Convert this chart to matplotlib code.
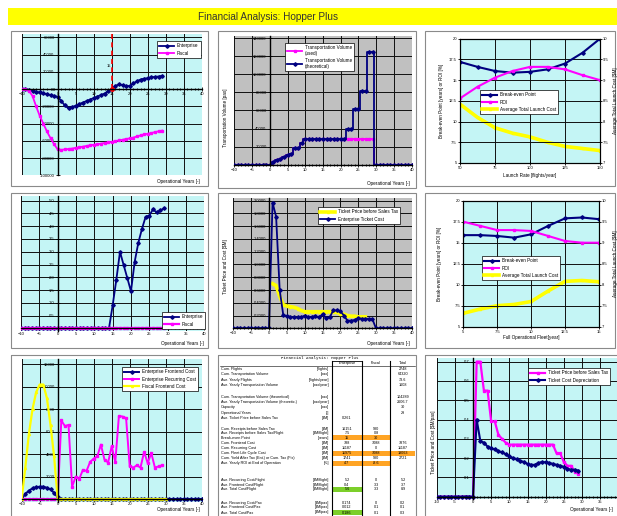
import matplotlib
matplotlib.use('Agg')
import matplotlib.pyplot as plt
from matplotlib.patches import Rectangle
from matplotlib.ticker import MultipleLocator, FuncFormatter, FixedLocator

plt.rcParams['font.family'] = ['Liberation Sans', 'DejaVu Sans']

# ---------------- data ----------------
years_p1 = list(range(-10, 30))
cash_enterprise = [500, 0, -1000, -2000, -3000, -4000, -5000, -6000, -7000, -8000,
                   -9000, -14000, -19000, -22500, -21000, -19300, -17500, -15700, -14000, -12200,
                   -10500, -8700, -7000, -5200, -2500, 0, 3500, 5500, 4500, 3500,
                   3500, 6500, 9000, 11000, 12000, 12500, 13500, 14000, 14500, 15300]
cash_fiscal = [500, -500, -2000, -8000, -20000, -31000, -40000, -49000, -57000, -64000,
               -70000, -70500, -70000, -69500, -69000, -68200, -67500, -66800, -66000, -65300,
               -64600, -64000, -63300, -62600, -61900, -61200, -60400, -59600, -58800, -58000,
               -57200, -56300, -55000, -53800, -52600, -51800, -51000, -50000, -49000, -48200]
break_even_year = 15

years_p2 = list(range(-10, 41))
vol_theoretical = [0] * 11 + [3000, 5000, 6000, 8000, 11000, 12000, 18000, 19000, 24000] + \
                  [28000] * 12 + [40000, 40000, 61000, 61000, 81000, 81000, 125000, 125000] + [0] * 11
vol_used = [0] * 11 + [3000, 5000, 6000, 8000, 11000, 12000, 18000, 19000, 24000] + \
           [28000] * 12 + [28000] * 8 + [0] * 11

launch_rate = [50, 62.5, 75, 87.5, 100, 112.5, 125, 137.5, 150]
be_launch = [17.2, 16.6, 16.1, 15.9, 16.0, 16.3, 17.0, 18.3, 20.0]
roi_launch = [12.8, 14.2, 15.3, 16.1, 16.6, 16.6, 16.3, 15.6, 15.0]
cost_launch = [8.42, 8.1, 7.85, 7.72, 7.63, 7.5, 7.4, 7.35, 7.3]

years_p4 = list(range(-10, 30))
roi_enterprise = [0] * 25 + [0.9, 1.9, 3.0, 2.48, 1.97, 1.45, 2.6, 3.35, 3.9, 4.37,
                             4.42, 4.66, 4.54, 4.62, 4.7]
roi_fiscal = [0] * 40

years_p5 = list(range(-10, 41))
ticket_cost_ent = [0] * 11 + [1.97, 1.75, 0.6, 0.21, 0.19, 0.18, 0.17, 0.17, 0.17, 0.2,
                              0.17, 0.18, 0.19, 0.17, 0.22, 0.16, 0.17, 0.28, 0.28, 0.27,
                              0.2, 0.12, 0.12, 0.13, 0.16, 0.15, 0.15, 0.15, 0.14] + [0] * 11
years_price_p5 = list(range(1, 28))
ticket_price_p5 = [0.70, 0.67, 0.5, 0.37, 0.35, 0.34, 0.33, 0.31, 0.28, 0.26,
                   0.26, 0.26, 0.26, 0.26, 0.26, 0.26, 0.26, 0.26, 0.25, 0.23,
                   0.22, 0.2, 0.19, 0.19, 0.18, 0.18, 0.18]

fleet_year = [5, 6.25, 7.5, 8.75, 10, 11.25, 12.5, 13.75, 15]
be_fleet = [15.9, 15.9, 15.8, 15.6, 16.0, 17.0, 17.9, 18.0, 17.8]
roi_fleet = [17.5, 17.0, 16.5, 16.5, 16.4, 15.8, 15.2, 15.0, 15.0]
cost_fleet = [7.32, 7.42, 7.5, 7.53, 7.6, 7.85, 8.08, 8.1, 8.07]

years_front_ent = list(range(-10, 41))
frontend_enterprise = [0, 450, 750, 950, 1050, 1100, 1100, 1000, 850, 550, 150] + [0] * 40
years_recurring = list(range(-10, 30))
recurring_enterprise = [0] * 11 + [7000, 6500, 6600, 1100, 2000, 1800, 2600, 2500, 3300, 3600,
                                   3800, 4850, 3500, 3250, 4700, 3300, 7400, 7350, 7200, 2900,
                                   2800, 3000, 2800, 4200, 3200, 4100, 2800, 2900, 3000]
years_front_fis = list(range(-10, 31))
frontend_fiscal = [0, 2800, 5800, 8000, 9500, 10200, 10200, 9000, 6600, 3800, 0] + [0] * 30

years_p9 = list(range(-10, 30))
price_p9 = [0] * 11 + [0.70, 0.70, 0.55, 0.55, 0.39, 0.39, 0.32, 0.30, 0.28] + [0.27] * 13 + \
           [0.225, 0.225, 0.18, 0.16, 0.16, 0.13, 0.12]
cost_dep_p9 = [0] * 11 + [0.40, 0.29, 0.28, 0.26, 0.25, 0.245, 0.235, 0.23, 0.22, 0.21,
                          0.2, 0.195, 0.185, 0.18, 0.17, 0.165, 0.165, 0.175, 0.18, 0.178,
                          0.175, 0.17, 0.165, 0.16, 0.155, 0.145, 0.14, 0.14, 0.135]

table_title = "Financial Analysis: Hopper Plus"
table_headers = ["Enterprise", "Fiscal", "Total"]
table_labels = ["Cum. Flights", "Cum. Transportation Volume", "Ave. Yearly Flights",
                "Ave. Yearly Transportation Volume",
                "Cum. Transportation Volume (theoretical)",
                "Ave. Yearly Transportation Volume (theoretic.)", "Capacity",
                "Operational Years", "Ave. Ticket Price before Sales Tax",
                "Cum. Receipts before Sales Tax", "Ave. Receipts before Sales Tax/Flight",
                "Break-even Point", "Cum. Frontend Cost", "Cum. Recurring Cost",
                "Cum. Fleet Life Cycle Cost", "Cum. Yield After Tax (Ent.) or Cum. Tax (Fis)",
                "Ave. Yearly ROI at End of Operation",
                "Ave. Recurring Cost/Flight", "Ave. Frontend Cost/Flight", "Ave. Total Cost/Flight",
                "Ave. Recurring Cost/Pax", "Ave. Frontend Cost/Pax", "Ave. Total Cost/Pax"]
table_units = ["[flights]", "[pax]", "[flights/year]", "[pax/year]",
               "[pax]", "[pax/year]", "[pax]", "[-]", "[$M]",
               "[$M]", "[$M/flight]", "[years]", "[$M]", "[$M]", "[$M]", "[$M]", "[%]",
               "[$M/flight]", "[$M/flight]", "[$M/flight]",
               "[$M/pax]", "[$M/pax]", "[$M/pax]"]
table_ent = ["", "", "", "", "", "", "", "", "0.261",
             "16151", "7.5", "15", "788", "11187", "11975", "1741", "4.7",
             "5.2", "0.4", "5.6", "0.174", "0.012", "0.186"]
table_fis = ["", "", "", "", "", "", "", "", "",
             "980", "0.8", "30", "7088", "0", "7088", "980", "-8.6",
             "0", "3.3", "3.3", "0", "0.1", "0.1"]
table_tot = ["2748", "64320", "73.6", "1608", "104289", "2606.7", "30", "29", "",
             "", "", "", "7876", "11187", "19063", "2721", "",
             "5.2", "3.7", "8.9", "0.2", "0.1", "0.3"]
orange_cells = [("Break-even Point", 0), ("Break-even Point", 1),
                ("Cum. Fleet Life Cycle Cost", 0), ("Cum. Fleet Life Cycle Cost", 1),
                ("Cum. Fleet Life Cycle Cost", 2),
                ("Ave. Yearly ROI at End of Operation", 0), ("Ave. Yearly ROI at End of Operation", 1)]
green_cells = [("Ave. Total Cost/Flight", 0), ("Ave. Total Cost/Pax", 0)]

# ---------------- style ----------------
NAVY = '#000080'
MAG = '#ff00ff'
YEL = '#ffff00'
CYAN = '#c4f5f5'
GRAY = '#c0c0c0'
FS = 3.3      # axis titles / legends
TS = 3.0      # tick labels
W, H = 617, 516

fig = plt.figure(figsize=(W / 100, H / 100), dpi=100)
canvas = fig.add_axes([0, 0, 1, 1])
canvas.set_xlim(0, W)
canvas.set_ylim(H, 0)
canvas.axis('off')


def esc(s):
    return s.replace('$', r'\$')


def make_ax(l, t, r, b, bg):
    ax = fig.add_axes([l / W, 1 - b / H, (r - l) / W, (b - t) / H])
    ax.set_facecolor(bg)
    ax.set_axisbelow(True)
    return ax


def years_axis(ax, ylim, ystep, fmt, xfmt=None):
    ax.set_xlim(-10, 40)
    ax.set_ylim(*ylim)
    ax.xaxis.set_major_locator(MultipleLocator(5))
    ax.xaxis.set_minor_locator(MultipleLocator(1))
    ax.yaxis.set_major_locator(MultipleLocator(ystep))
    ax.spines['left'].set_position(('data', 0))
    ax.spines['bottom'].set_position(('data', 0))
    for s in ('top', 'right'):
        ax.spines[s].set_visible(False)
    for s in ('left', 'bottom'):
        ax.spines[s].set_linewidth(1.0)
    ax.grid(True, which='major', color='#101010', lw=0.7)
    ax.tick_params(which='both', direction='inout', length=2.2, width=0.6,
                   labelsize=TS, pad=1.2)
    ax.tick_params(which='minor', length=1.6)
    ax.yaxis.set_major_formatter(FuncFormatter(fmt))
    if xfmt is not None:
        ax.xaxis.set_major_formatter(FuncFormatter(xfmt))


def legend(ax, handles, labels, x, y, fs=FS):
    lg = ax.legend(handles, labels, loc='upper left', bbox_to_anchor=(x / W, 1 - y / H),
                   bbox_transform=fig.transFigure, fontsize=fs, frameon=True, fancybox=False,
                   edgecolor='black', framealpha=1, borderpad=0.5, handlelength=3.2,
                   handletextpad=0.6, labelspacing=0.5, borderaxespad=0)
    lg.get_frame().set_linewidth(0.5)
    return lg


def line(ax, x, y, color, marker, lw=1.3, ms=1.8, **kw):
    return ax.plot(x, y, color=color, lw=lw, marker=marker, ms=ms, mec=color, mfc=color, **kw)[0]


# title bar and frames
canvas.add_patch(Rectangle((8, 8), 612, 17, facecolor=YEL, edgecolor='none'))
canvas.text(268, 17, "Financial Analysis: Hopper Plus", fontsize=7.2, color='#333333',
            ha='center', va='center')
frames = [(11, 31, 208, 186), (218, 31, 416, 188), (425, 31, 615, 186),
          (11, 193, 208, 348), (218, 193, 416, 348), (425, 193, 615, 348),
          (11, 355, 208, 525), (218, 355, 416, 525), (425, 355, 625, 525)]
for l, t, r, b in frames:
    canvas.add_patch(Rectangle((l, t), r - l, b - t, facecolor='none', edgecolor='#8a8a8a', lw=0.8))


def xlabel(x, y, text, ha='right'):
    canvas.text(x, y, text, fontsize=FS, ha=ha, va='center')


def ylabel(x, y, text):
    canvas.text(x, y, esc(text), fontsize=FS, ha='center', va='center', rotation=90)


# ---------- panel 1: cash flow ----------
ax1 = make_ax(21.7, 33.8, 201.7, 175.3, CYAN)
years_axis(ax1, (-100000, 64000), 20000, lambda v, p: f"{v:.0f}")
h1 = line(ax1, years_p1, cash_enterprise, NAVY, 'D')
h2 = line(ax1, years_p1, cash_fiscal, MAG, 's')
lo, hi = ax1.get_ylim()
ax1.axvline(break_even_year, ymin=(0 - lo) / (hi - lo), ymax=1, color='#ff0000', lw=1.2, ls=(0, (3, 2)))
ax1.plot([break_even_year], [0], 'o', color='#ff0000', ms=2.5)
ax1.text(break_even_year - 0.3, 27000, str(break_even_year), fontsize=2.8, ha='right', va='center')
legend(ax1, [h1, h2], ["Enterprise", "Fiscal"], 157, 41)
xlabel(200, 182, "Operational Years [-]")
ylabel(35, 110, "Cash Flow [$M]")

# ---------- panel 2: transportation volume ----------
ax2 = make_ax(234.3, 36.2, 411.7, 164.7, GRAY)
years_axis(ax2, (0, 142000), 20000, lambda v, p: f"{v:.0f}")
h1 = line(ax2, years_p2, vol_used, MAG, 's', drawstyle='steps-mid')
h2 = line(ax2, years_p2, vol_theoretical, NAVY, 'D', drawstyle='steps-mid')
legend(ax2, [h1, h2], ["Transportation Volume\n(used)", "Transportation Volume\n(theoretical)"], 285, 43)
xlabel(410, 183, "Operational Years [-]")
ylabel(225, 118, "Transportation Volume [pax]")


def twin_panel(l, t, r, b, xs, be, roi, cost, xticks, xl, lg_xy, xl_y, yl_x):
    ax = make_ax(l, t, r, b, CYAN)
    ax.set_xlim(xticks[0], xticks[-1])
    ax.set_ylim(5, 20)
    ax.xaxis.set_major_locator(FixedLocator(xticks))
    ax.yaxis.set_major_locator(MultipleLocator(2.5))
    ax.xaxis.set_major_formatter(FuncFormatter(lambda v, p: f"{v:g}"))
    ax.yaxis.set_major_formatter(FuncFormatter(lambda v, p: f"{v:g}"))
    ax.grid(True, color='#101010', lw=0.7)
    ax.tick_params(direction='inout', length=2.2, width=0.6, labelsize=TS, pad=1.2)
    for s in ax.spines.values():
        s.set_linewidth(0.8)
    ax2_ = ax.twinx()
    ax2_.set_ylim(7, 10)
    ax2_.yaxis.set_major_locator(MultipleLocator(0.5))
    ax2_.yaxis.set_major_formatter(FuncFormatter(lambda v, p: f"{v:g}"))
    ax2_.tick_params(direction='inout', length=2.2, width=0.6, labelsize=TS, pad=1.2)
    hy = line(ax2_, xs, cost, YEL, '^', lw=2.6, ms=1.5)
    hb = line(ax, xs, be, NAVY, 'D', lw=1.5)
    hr = line(ax, xs, roi, MAG, 's', lw=1.5)
    ax.set_zorder(ax2_.get_zorder() + 1)
    ax.patch.set_visible(False)
    ax2_.patch.set_visible(True)
    ax2_.patch.set_facecolor(CYAN)
    legend(ax, [hb, hr, hy], ["Break-even Point", "ROI", "Average Total Launch Cost"], *lg_xy)
    xlabel((l + r) / 2, xl_y, xl, ha='center')
    ylabel(yl_x, (t + b) / 2, "Break-even Point [years] or ROI [%]")
    ylabel(615.5, (t + b) / 2, "Average Total Launch Cost [$M]")
    return ax


# ---------- panel 3 ----------
twin_panel(460, 38.7, 600, 163, launch_rate, be_launch, roi_launch, cost_launch,
           [50, 75, 100, 125, 150], "Launch Rate [flights/year]", (480, 90), 175, 441)

# ---------- panel 4: ROI ----------
ax4 = make_ax(21, 195.6, 204.3, 331.4, CYAN)
years_axis(ax4, (-0.12, 5.2), 0.5, lambda v, p: f"{v:.1f}")
h1 = line(ax4, years_p4, roi_enterprise, NAVY, 'D')
h2 = line(ax4, years_p4, roi_fiscal, MAG, 's', lw=1.6)
legend(ax4, [h1, h2], ["Enterprise", "Fiscal"], 162, 312)
xlabel(204, 344, "Operational Years [-]")
ylabel(38, 253, "Average Yearly ROI [%]")

# ---------- panel 5: ticket price & cost ----------
ax5 = make_ax(233.3, 198.1, 411.7, 328.3, GRAY)
years_axis(ax5, (0, 2.04), 0.2, lambda v, p: f"{v:.4f}")
h1 = line(ax5, years_price_p5, ticket_price_p5, YEL, '^', lw=2.6, ms=1.5)
h2 = line(ax5, years_p5, ticket_cost_ent, NAVY, 'D')
legend(ax5, [h1, h2], ["Ticket Price before Sales Tax", "Enterprise Ticket Cost"], 318, 207)
xlabel(410, 344, "Operational Years [-]")
ylabel(226, 267, "Ticket Price and Cost [$M]")

# ---------- panel 6 ----------
twin_panel(463.3, 200.7, 599, 326.7, fleet_year, be_fleet, roi_fleet, cost_fleet,
           [5, 7.5, 10, 12.5, 15], "Full Operational Fleet[year]", (482, 256), 337, 440)

# ---------- panel 7: fleet life cycle costs ----------
ax7 = make_ax(21.7, 358.7, 201.7, 501.7, CYAN)
years_axis(ax7, (-240, 12500), 2000, lambda v, p: f"{v:.0f}")
h1 = line(ax7, years_front_ent, frontend_enterprise, NAVY, 'D', lw=1.4)
h2 = line(ax7, years_recurring, recurring_enterprise, MAG, 's', lw=1.4)
h3 = line(ax7, years_front_fis, frontend_fiscal, YEL, '^', lw=1.6, ms=1.5)
legend(ax7, [h1, h2, h3], ["Enterprise Frontend Cost", "Enterprise Recurring Cost",
                           "Fiscal Frontend Cost"], 122, 367)
xlabel(200, 510, "Operational Years [-]")
ylabel(37, 442, "Fleet Life Cycle Costs [$M]")

# ---------- panel 8: table ----------
row_y = [369, 374.3, 379.6, 384.9, 396.7, 402, 407.3, 412.7, 418.2, 428.7, 433.2, 437.8,
         442.8, 448, 453.2, 458.2, 463.3, 480, 484.6, 489.4, 502.7, 507.4, 512.5]
col_edges = [332, 362, 390, 415]
col_centers = [347, 376, 403]
TF = 2.7
canvas.text(320, 358.5, table_title, fontsize=3.0, ha='center', va='center',
            family=['Liberation Mono', 'DejaVu Sans Mono'])
for j, hdr in enumerate(table_headers):
    canvas.text(col_centers[j], 363, hdr, fontsize=TF, ha='center', va='center')
canvas.plot([332, 362], [360.5, 360.5], color='black', lw=0.6)
canvas.plot([220, 415], [365.5, 365.5], color='black', lw=0.4)
for key, col in orange_cells:
    i = table_labels.index(key)
    canvas.add_patch(Rectangle((col_edges[col], row_y[i] - 2.5), col_edges[col + 1] - col_edges[col],
                               5, facecolor='#ffa424', edgecolor='none'))
for key, col in green_cells:
    i = table_labels.index(key)
    canvas.add_patch(Rectangle((col_edges[col], row_y[i] - 2.5), col_edges[col + 1] - col_edges[col],
                               5, facecolor='#7ccf2a', edgecolor='none'))
for x in col_edges[:3]:
    canvas.plot([x, x], [360.5, 520], color='black', lw=0.8)
for i, y in enumerate(row_y):
    canvas.text(221, y, table_labels[i], fontsize=TF, ha='left', va='center')
    canvas.text(329, y, esc(table_units[i]), fontsize=TF, ha='right', va='center')
    for j, val in enumerate([table_ent[i], table_fis[i], table_tot[i]]):
        if val:
            canvas.text(col_centers[j], y, val, fontsize=TF, ha='center', va='center')

# ---------- panel 9: ticket price per pax ----------
ax9 = make_ax(436.7, 358.2, 618.3, 499, CYAN)
years_axis(ax9, (-0.012, 0.718), 0.1, lambda v, p: f"{v:.1f}",
           xfmt=lambda v, p: "" if v > 37 else f"{v:.0f}")
h1 = line(ax9, years_p9, price_p9, MAG, 's', lw=1.6)
h2 = line(ax9, years_p9, cost_dep_p9, NAVY, 'D', lw=1.5)
legend(ax9, [h1, h2], ["Ticket Price before Sales Tax", "Ticket Cost Depreciation"], 528, 368)
xlabel(613, 510, "Operational Years [-]")
ylabel(433, 442, "Ticket Price and Cost [$M/pax]")

fig.savefig('out.png', dpi=100)
